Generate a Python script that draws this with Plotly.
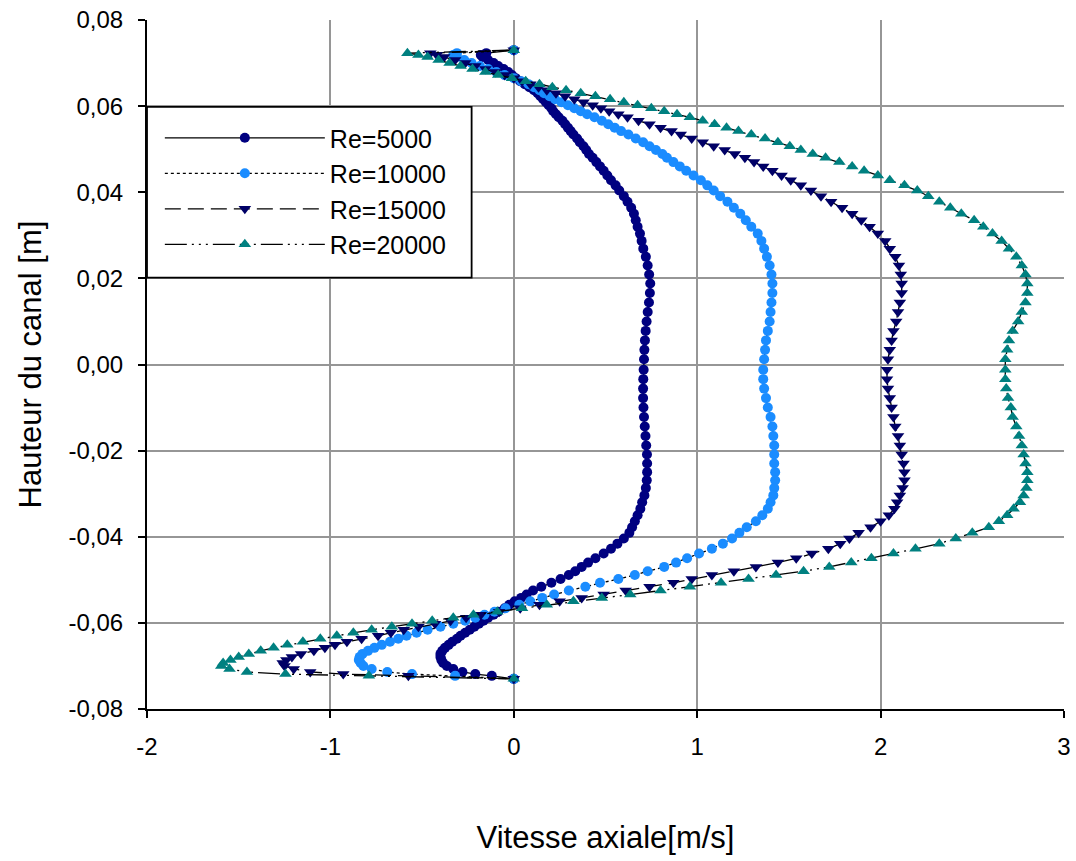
import plotly.graph_objects as go

# Channel height nodes (m), from the upper wall to the lower wall
hauteur = [
    0.0730, 0.0723, 0.0719, 0.0714, 0.0707, 0.0700, 0.0693, 0.0686, 0.0679, 0.0672,
    0.0665, 0.0658, 0.0651, 0.0644, 0.0637, 0.0630, 0.0623, 0.0616, 0.0609, 0.0602,
    0.0595, 0.0588, 0.0581, 0.0574, 0.0566, 0.0558, 0.0550, 0.0542, 0.0534, 0.0525,
    0.0516, 0.0507, 0.0498, 0.0489, 0.0480, 0.0470, 0.0460, 0.0450, 0.0439, 0.0428,
    0.0416, 0.0404, 0.0391, 0.0378, 0.0364, 0.0350, 0.0335, 0.0320, 0.0304, 0.0287,
    0.0269, 0.0250, 0.0230, 0.0209, 0.0188, 0.0166, 0.0144, 0.0122, 0.0100, 0.0078,
    0.0056, 0.0034, 0.0012,
    -0.0012, -0.0034, -0.0056, -0.0078, -0.0100, -0.0122, -0.0144, -0.0166, -0.0188, -0.0209,
    -0.0230, -0.0250, -0.0269, -0.0287, -0.0304, -0.0320, -0.0335, -0.0350, -0.0364, -0.0378,
    -0.0391, -0.0404, -0.0416, -0.0428, -0.0439, -0.0450, -0.0460, -0.0470, -0.0480, -0.0489,
    -0.0498, -0.0507, -0.0516, -0.0525, -0.0534, -0.0542, -0.0550, -0.0558, -0.0566, -0.0574,
    -0.0581, -0.0588, -0.0595, -0.0602, -0.0609, -0.0616, -0.0623, -0.0630, -0.0637, -0.0644,
    -0.0651, -0.0658, -0.0665, -0.0672, -0.0679, -0.0686, -0.0693, -0.0700, -0.0707, -0.0714,
    -0.0719, -0.0723, -0.0730,
]

# Axial velocity (m/s) at each node, one list per Reynolds number
vitesse_re5000 = [
    0, -0.15, -0.18, -0.17, -0.14, -0.11, -0.085, -0.055, -0.03, -0.01,
    0.01, 0.035, 0.06, 0.085, 0.11, 0.13, 0.145, 0.16, 0.175, 0.19,
    0.205, 0.215, 0.23, 0.245, 0.265, 0.28, 0.295, 0.31, 0.325, 0.345,
    0.36, 0.38, 0.395, 0.41, 0.43, 0.45, 0.47, 0.49, 0.51, 0.53,
    0.555, 0.575, 0.60, 0.62, 0.64, 0.655, 0.665, 0.675, 0.688, 0.697,
    0.706, 0.72, 0.73, 0.738, 0.744, 0.742, 0.737, 0.73, 0.724, 0.719,
    0.715, 0.712, 0.71,
    0.708, 0.706, 0.705, 0.705, 0.707, 0.71, 0.714, 0.718, 0.722, 0.726,
    0.727, 0.727, 0.725, 0.72, 0.712, 0.70, 0.69, 0.675, 0.66, 0.645,
    0.63, 0.60, 0.565, 0.53, 0.49, 0.445, 0.405, 0.37, 0.335, 0.30,
    0.255, 0.205, 0.15, 0.105, 0.07, 0.04, 0.005, -0.025, -0.05, -0.085,
    -0.11, -0.14, -0.165, -0.19, -0.215, -0.24, -0.265, -0.29, -0.31, -0.335,
    -0.355, -0.375, -0.39, -0.40, -0.40, -0.395, -0.385, -0.365, -0.33, -0.28,
    -0.21, -0.12, 0,
]

vitesse_re10000 = [
    0, -0.31, -0.33, -0.31, -0.27, -0.23, -0.185, -0.14, -0.095, -0.05,
    0.0, 0.04, 0.08, 0.11, 0.14, 0.165, 0.195, 0.225, 0.26, 0.295,
    0.33, 0.365, 0.40, 0.44, 0.48, 0.515, 0.55, 0.585, 0.625, 0.665,
    0.705, 0.74, 0.775, 0.81, 0.835, 0.87, 0.905, 0.94, 0.98, 1.02,
    1.055, 1.09, 1.125, 1.165, 1.20, 1.235, 1.265, 1.295, 1.33, 1.35,
    1.365, 1.38, 1.395, 1.405, 1.41, 1.41, 1.405, 1.40, 1.395, 1.385,
    1.375, 1.37, 1.365,
    1.36, 1.36, 1.365, 1.375, 1.385, 1.40, 1.41, 1.415, 1.42, 1.42,
    1.42, 1.425, 1.425, 1.42, 1.415, 1.40, 1.385, 1.355, 1.32, 1.27,
    1.23, 1.19, 1.14, 1.08, 1.01, 0.945, 0.885, 0.82, 0.73, 0.66,
    0.57, 0.47, 0.39, 0.30, 0.22, 0.155, 0.09, 0.03, -0.045, -0.105,
    -0.16, -0.21, -0.265, -0.33, -0.40, -0.47, -0.53, -0.585, -0.63, -0.675,
    -0.72, -0.76, -0.795, -0.825, -0.84, -0.845, -0.835, -0.82, -0.775, -0.69,
    -0.555, -0.32, 0,
]

vitesse_re15000 = [
    0, -0.455, -0.42, -0.38, -0.32, -0.265, -0.21, -0.155, -0.10, -0.05,
    0.0, 0.045, 0.09, 0.135, 0.18, 0.23, 0.28, 0.33, 0.38, 0.43,
    0.475, 0.52, 0.57, 0.62, 0.68, 0.74, 0.80, 0.86, 0.91, 0.97,
    1.03, 1.09, 1.15, 1.205, 1.26, 1.31, 1.36, 1.41, 1.46, 1.51,
    1.565, 1.62, 1.675, 1.73, 1.79, 1.845, 1.895, 1.94, 1.985, 2.025,
    2.05, 2.08, 2.10, 2.11, 2.115, 2.115, 2.105, 2.095, 2.085, 2.07,
    2.06, 2.05, 2.04,
    2.035, 2.035, 2.04, 2.05, 2.06, 2.07, 2.08, 2.095, 2.105, 2.115,
    2.125, 2.13, 2.13, 2.12, 2.105, 2.09, 2.075, 2.045, 2.00, 1.945,
    1.88, 1.83, 1.78, 1.715, 1.625, 1.54, 1.44, 1.32, 1.20, 1.08,
    0.97, 0.87, 0.74, 0.61, 0.49, 0.37, 0.25, 0.14, 0.035, -0.08,
    -0.18, -0.26, -0.345, -0.43, -0.52, -0.60, -0.67, -0.74, -0.83, -0.91,
    -0.975, -1.03, -1.09, -1.16, -1.21, -1.24, -1.26, -1.25, -1.20, -1.11,
    -0.93, -0.575, 0,
]

vitesse_re20000 = [
    0, -0.58, -0.52, -0.47, -0.41, -0.35, -0.29, -0.225, -0.155, -0.085,
    -0.01, 0.065, 0.14, 0.21, 0.285, 0.365, 0.445, 0.525, 0.60, 0.675,
    0.75, 0.82, 0.89, 0.96, 1.03, 1.095, 1.16, 1.225, 1.295, 1.37,
    1.44, 1.505, 1.565, 1.63, 1.70, 1.775, 1.845, 1.91, 1.985, 2.05,
    2.13, 2.20, 2.26, 2.32, 2.38, 2.44, 2.51, 2.56, 2.61, 2.66,
    2.70, 2.74, 2.77, 2.79, 2.80, 2.80, 2.79, 2.77, 2.75, 2.72,
    2.70, 2.69, 2.68,
    2.68, 2.68, 2.685, 2.695, 2.71, 2.72, 2.74, 2.755, 2.77, 2.78,
    2.79, 2.80, 2.80, 2.795, 2.78, 2.76, 2.725, 2.69, 2.645, 2.59,
    2.50, 2.41, 2.32, 2.19, 2.07, 1.95, 1.84, 1.72, 1.58, 1.43,
    1.28, 1.13, 0.96, 0.80, 0.635, 0.48, 0.325, 0.18, 0.045, -0.09,
    -0.22, -0.33, -0.445, -0.555, -0.665, -0.775, -0.875, -0.965, -1.055, -1.15,
    -1.235, -1.31, -1.38, -1.445, -1.50, -1.545, -1.585, -1.595, -1.55, -1.455,
    -1.245, -0.79, 0,
]

x_ticks = [-2, -1, 0, 1, 2, 3]
x_ticktext = ["-2", "-1", "0", "1", "2", "3"]
y_ticks = [-0.08, -0.06, -0.04, -0.02, 0.0, 0.02, 0.04, 0.06, 0.08]
y_ticktext = ["-0,08", "-0,06", "-0,04", "-0,02", "0,00", "0,02", "0,04", "0,06", "0,08"]

FONT = "Arial, 'Liberation Sans', sans-serif"

series = [
    ("Re=5000", vitesse_re5000, "solid", "circle", "#000080", 10),
    ("Re=10000", vitesse_re10000, "dot", "circle", "#1A8CFF", 10),
    ("Re=15000", vitesse_re15000, "16px,7px", "triangle-down", "#000066", 11),
    ("Re=20000", vitesse_re20000, "22px,5px,2px,5px,2px,5px,2px,5px", "triangle-up", "#008080", 11),
]

fig = go.Figure()
for name, xs, dash, symbol, color, size in series:
    fig.add_trace(go.Scatter(
        x=xs, y=hauteur, name=name, mode="lines+markers",
        line=dict(color="black", width=1.3, dash=dash),
        marker=dict(symbol=symbol, color=color, size=size, line=dict(width=0)),
    ))

grid = "#969696"

# Framed white box behind the legend entries
fig.add_shape(
    type="rect", xref="paper", yref="paper",
    x0=0.0, x1=0.354, y0=0.626, y1=0.874,
    line=dict(color="black", width=1.8), fillcolor="white", layer="above",
)

fig.update_layout(
    width=1076, height=861,
    margin=dict(l=147, r=12, t=20, b=152, autoexpand=False),
    paper_bgcolor="white", plot_bgcolor="white",
    font=dict(family=FONT, color="black", size=24),
    showlegend=True,
    legend=dict(
        x=0.014, y=0.862, xanchor="left", yanchor="top",
        bgcolor="rgba(0,0,0,0)", borderwidth=0,
        font=dict(family=FONT, size=25, color="black"),
        itemwidth=160, tracegroupgap=0,
    ),
    xaxis=dict(
        range=[-2, 3], tickvals=x_ticks, ticktext=x_ticktext,
        showgrid=True, gridcolor=grid, gridwidth=1.5,
        showline=True, linecolor="black", linewidth=2, mirror=False,
        ticks="outside", ticklen=7, tickwidth=1.5, tickcolor="black",
        ticklabelstandoff=8, automargin=False,
        zeroline=False,
        title=dict(text="Vitesse axiale[m/s]", font=dict(family=FONT, size=31), standoff=68),
    ),
    yaxis=dict(
        range=[-0.08, 0.08], tickvals=y_ticks, ticktext=y_ticktext,
        showgrid=True, gridcolor=grid, gridwidth=1.5,
        showline=True, linecolor="black", linewidth=2, mirror=False,
        ticks="outside", ticklen=7, tickwidth=1.5, tickcolor="black",
        ticklabelstandoff=10, automargin=False,
        zeroline=False,
        title=dict(text="Hauteur du canal [m]", font=dict(family=FONT, size=31), standoff=18),
    ),
)

fig.write_html("out.html")
